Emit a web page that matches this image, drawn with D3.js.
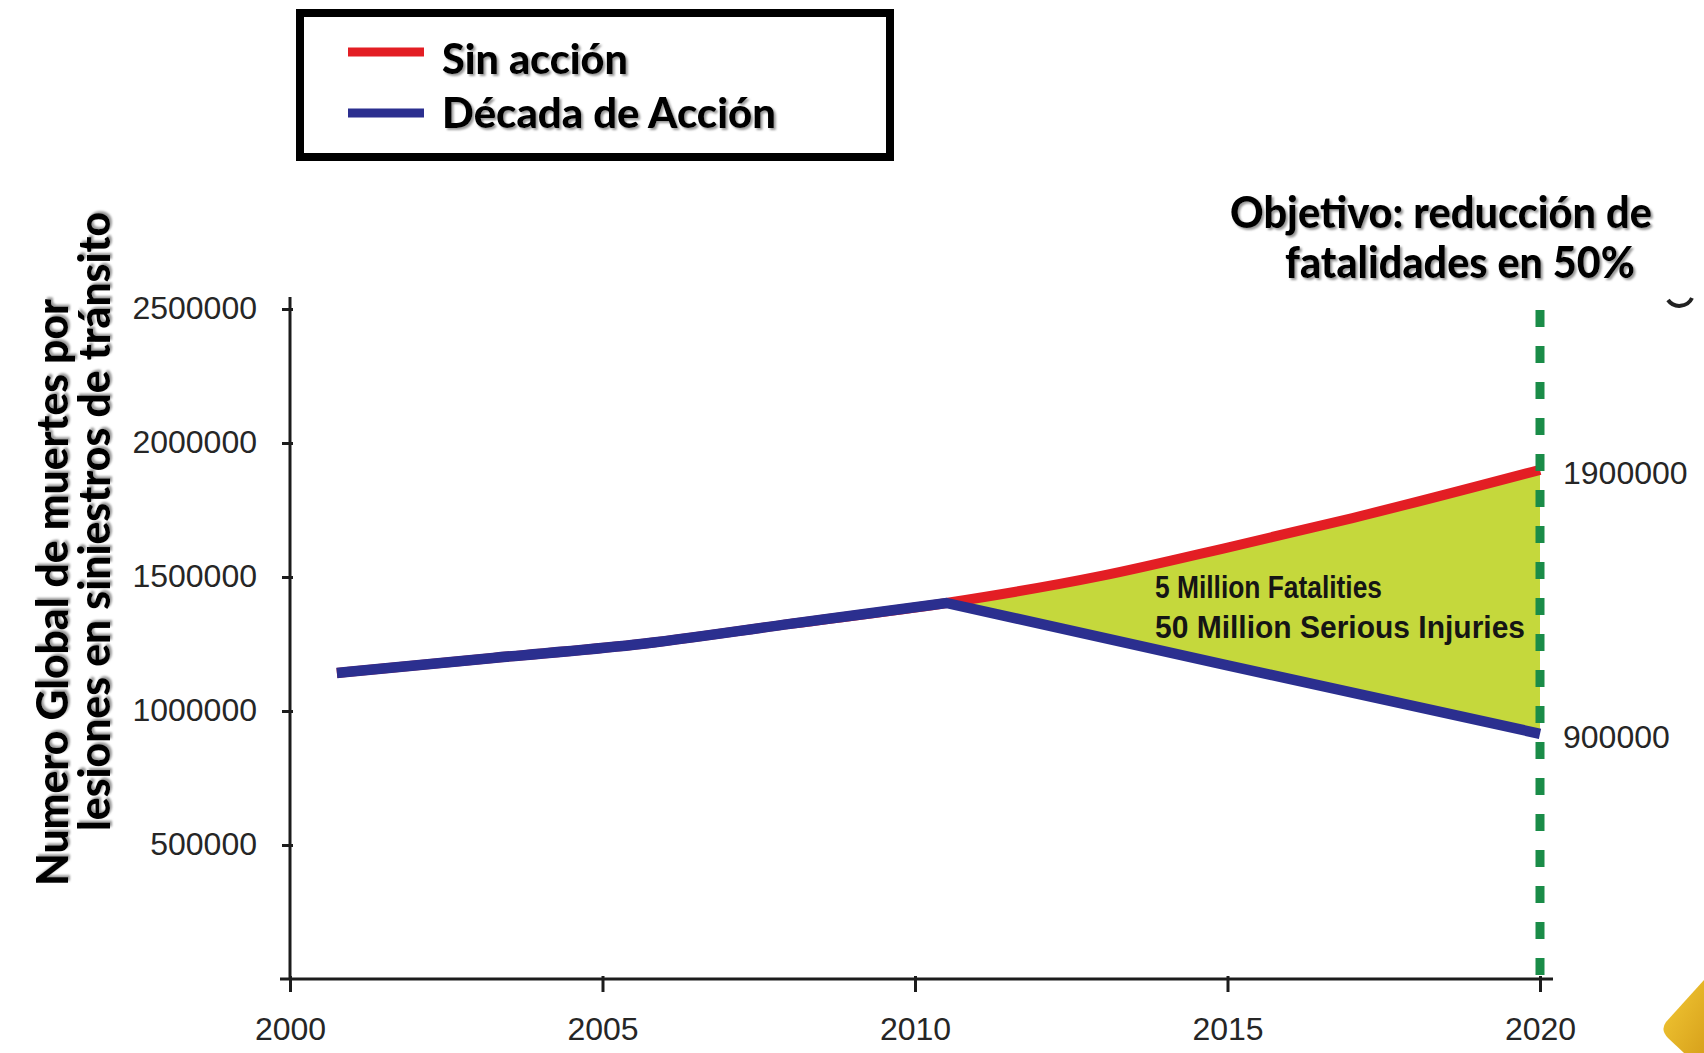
<!DOCTYPE html>
<html><head><meta charset="utf-8">
<script src="https://cdn.jsdelivr.net/npm/d3@7"></script>
<style>html,body{margin:0;padding:0;background:#fff;}svg{display:block;}</style>
</head><body>
<svg id="chart" width="1704" height="1053"></svg>
<script>
// ---------- data ----------
const yearsBase = [2000.75, 2003.25, 2005.5, 2008, 2010.5];
const valuesBase = [1142000, 1198000, 1247000, 1325000, 1403000];
const yearsSinAccion = [2010.5, 2013, 2015, 2017, 2020];
const valuesSinAccion = [1403000, 1505000, 1610000, 1720000, 1900000];
const yearsDecada = [2010.5, 2015, 2020];
const valuesDecada = [1403000, 1170000, 915000];
const xTicks = [2000, 2005, 2010, 2015, 2020];
const yTicks = [500000, 1000000, 1500000, 2000000, 2500000];
const endLabels = [{year: 2020, value: 1900000, text: "1900000"}, {year: 2020, value: 915000, text: "900000"}];
const legendItems = [{name: "Sin acción", color: "#e31e24"}, {name: "Década de Acción", color: "#2b2f8f"}];
const targetYear = 2020;
const titleLines = ["Objetivo: reducción de", "fatalidades en 50%"];
const yTitleLines = ["Numero Global de muertes por", "lesiones en siniestros de tránsito"];
const noteLines = ["5 Million Fatalities", "50 Million Serious Injuries"];

// ---------- layout ----------
const svg = d3.select("#chart");
const x = d3.scaleLinear().domain([2000, 2020]).range([290, 1540]);
const y = d3.scaleLinear().domain([0, 2500000]).range([979, 309]);
const RED = "#e31e24", BLUE = "#2b2f8f", FILL = "#c5d83c", GREEN = "#1a8c48";

const defs = svg.append("defs");
const sh = defs.append("filter").attr("id", "shadow").attr("x", "-5%").attr("y", "-20%").attr("width", "110%").attr("height", "140%");
sh.append("feDropShadow").attr("dx", 2).attr("dy", 2).attr("stdDeviation", 1.2).attr("flood-color", "#777").attr("flood-opacity", 0.75);
const gold = defs.append("linearGradient").attr("id", "gold").attr("x1", 0).attr("y1", 0).attr("x2", 1).attr("y2", 1);
gold.append("stop").attr("offset", 0).attr("stop-color", "#f3c935");
gold.append("stop").attr("offset", 1).attr("stop-color", "#d8a21c");

const pts = (xs, vs) => xs.map((d, i) => [d, vs[i]]);
const base = pts(yearsBase, valuesBase);
const red = base.slice(0, -1).concat(pts(yearsSinAccion, valuesSinAccion));

const lineCurve = d3.line().x(d => x(d[0])).y(d => y(d[1])).curve(d3.curveMonotoneX);
const lineLin = d3.line().x(d => x(d[0])).y(d => y(d[1]));

// green area between scenarios
const redPart = pts(yearsSinAccion, valuesSinAccion);
const bluePartRev = pts(yearsDecada, valuesDecada).slice().reverse();
const areaPath = lineCurve(redPart) + lineLin(bluePartRev).replace(/^M/, "L") + "Z";
svg.append("path").attr("d", areaPath).attr("fill", FILL);

// axes
const axisColor = "#1c1c1c";
svg.append("line").attr("x1", x(2000)).attr("x2", x(2000)).attr("y1", y(2500000) - 12).attr("y2", y(0))
  .attr("stroke", axisColor).attr("stroke-width", 3);
svg.append("line").attr("x1", x(2000) - 10).attr("x2", x(2020) + 13).attr("y1", y(0)).attr("y2", y(0))
  .attr("stroke", axisColor).attr("stroke-width", 3);

const yAx = svg.append("g").attr("transform", `translate(${x(2000)},0)`)
  .call(d3.axisLeft(y).tickValues(yTicks).tickSize(8).tickPadding(25).tickFormat(d3.format("d")));
yAx.select(".domain").remove();
yAx.selectAll(".tick line").attr("x2", -8).attr("x1", 3).attr("stroke", axisColor).attr("stroke-width", 3);
yAx.selectAll(".tick text").attr("font-family", "'Liberation Sans', Arial, sans-serif").attr("font-size", 32)
  .attr("fill", "#262626").attr("dy", "0.3em").attr("x", -33);

const xAx = svg.append("g").attr("transform", `translate(0,${y(0)})`)
  .call(d3.axisBottom(x).tickValues(xTicks).tickSize(13).tickPadding(20).tickFormat(d3.format("d")));
xAx.select(".domain").remove();
xAx.selectAll(".tick line").attr("y1", -3).attr("y2", 13).attr("stroke", axisColor).attr("stroke-width", 3);
xAx.selectAll(".tick text").attr("font-family", "'Liberation Sans', Arial, sans-serif").attr("font-size", 32)
  .attr("fill", "#262626").attr("dy", 0).attr("y", 61);

// lines
svg.append("path").attr("d", lineCurve(red)).attr("fill", "none").attr("stroke", RED).attr("stroke-width", 10).attr("stroke-linejoin", "round");
const bluePath = lineCurve(base) + lineLin(pts(yearsDecada, valuesDecada)).replace(/^M/, "L");
svg.append("path").attr("d", bluePath).attr("fill", "none").attr("stroke", BLUE).attr("stroke-width", 10.5).attr("stroke-linejoin", "miter");

// target dashed line
svg.append("line").attr("x1", x(targetYear)).attr("x2", x(targetYear)).attr("y1", 310).attr("y2", y(0) + 2)
  .attr("stroke", GREEN).attr("stroke-width", 9).attr("stroke-dasharray", "17 19");

// end labels
svg.selectAll("text.endlab").data(endLabels).enter().append("text").attr("class", "endlab")
  .attr("x", d => x(d.year) + 23).attr("y", d => y(d.value) + 14)
  .attr("font-family", "'Liberation Sans', Arial, sans-serif").attr("font-size", 32).attr("fill", "#262626")
  .text(d => d.text);

// annotation in green area
svg.selectAll("text.note").data(noteLines).enter().append("text").attr("class", "note")
  .attr("x", 1155).attr("y", (d, i) => 598 + i * 40)
  .attr("font-family", "'Liberation Sans', Arial, sans-serif").attr("font-weight", "bold").attr("font-size", 31)
  .attr("fill", "#151515").attr("textLength", (d, i) => [227, 370][i]).attr("lengthAdjust", "spacingAndGlyphs")
  .text(d => d);

// title (top right)
const calib = "Lato, 'Open Sans', sans-serif";
svg.selectAll("text.title").data(titleLines).enter().append("text").attr("class", "title")
  .attr("x", (d, i) => [1230, 1285][i]).attr("y", (d, i) => [228, 278][i])
  .attr("font-family", calib).attr("font-weight", 900).attr("font-size", 43).attr("fill", "#000")
  .attr("textLength", (d, i) => [422, 350][i]).attr("lengthAdjust", "spacingAndGlyphs")
  .attr("filter", "url(#shadow)").text(d => d);

// y axis title (rotated)
svg.selectAll("text.ytitle").data(yTitleLines).enter().append("text").attr("class", "ytitle")
  .attr("transform", (d, i) => `translate(${[68, 110][i]},${[886, 831][i]}) rotate(-90)`)
  .attr("font-family", calib).attr("font-weight", 900).attr("font-size", 43).attr("fill", "#000")
  .attr("textLength", (d, i) => [587, 619][i]).attr("lengthAdjust", "spacingAndGlyphs")
  .attr("filter", "url(#shadow)").text(d => d);

// legend
const lg = svg.append("g");
lg.append("rect").attr("x", 300).attr("y", 13).attr("width", 590).attr("height", 144)
  .attr("fill", "#fff").attr("stroke", "#000").attr("stroke-width", 8);
const li = lg.selectAll("g.item").data(legendItems).enter().append("g").attr("class", "item");
li.append("line").attr("x1", 348).attr("x2", 424).attr("y1", (d, i) => [52, 113][i]).attr("y2", (d, i) => [52, 113][i])
  .attr("stroke", d => d.color).attr("stroke-width", 9);
li.append("text").attr("x", 442).attr("y", (d, i) => [74, 128][i])
  .attr("font-family", calib).attr("font-weight", 900).attr("font-size", 42).attr("fill", "#000")
  .attr("textLength", (d, i) => [186, 334][i]).attr("lengthAdjust", "spacingAndGlyphs")
  .attr("filter", "url(#shadow)").text(d => d.name);

// decorative fragments at the right edge
svg.append("path").attr("d", "M1668,300 A14,14 0 0 0 1692,298").attr("fill", "none").attr("stroke", "#222").attr("stroke-width", 4);
svg.append("path").attr("d", "M1704,980 L1666,1022 Q1660,1030 1668,1038 L1684,1053 L1704,1053 Z").attr("fill", "url(#gold)");
</script>
</body></html>
